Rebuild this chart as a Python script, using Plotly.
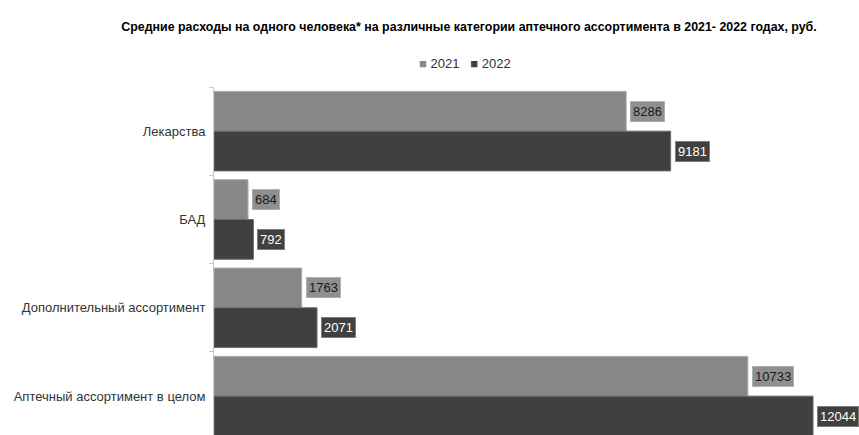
import plotly.graph_objects as go

categories = ["Лекарства", "БАД", "Дополнительный ассортимент", "Аптечный ассортимент в целом"]
values_2021 = [8286, 684, 1763, 10733]
values_2022 = [9181, 792, 2071, 12044]
series_names = ["2021", "2022"]

c2021 = "#878787"
c2022 = "#404040"

fig = go.Figure()
fig.add_trace(go.Bar(y=categories, x=values_2021, name=series_names[0], orientation="h",
                     marker=dict(color=c2021, line=dict(color="#a8a8a8", width=1))))
fig.add_trace(go.Bar(y=categories, x=values_2022, name=series_names[1], orientation="h",
                     marker=dict(color=c2022, line=dict(color="#6a6a6a", width=1))))

font_main = "Liberation Sans, Arial"
for cat, v in zip(categories, values_2021):
    fig.add_annotation(x=v, y=cat, text=str(v), showarrow=False, xanchor="left", yanchor="middle",
                       xshift=4, yshift=20, bgcolor="#8f8f8f", bordercolor="#b0b0b0", borderwidth=1,
                       borderpad=2, font=dict(family=font_main, size=13, color="#1a1a1a"))
for cat, v in zip(categories, values_2022):
    fig.add_annotation(x=v, y=cat, text=str(v), showarrow=False, xanchor="left", yanchor="middle",
                       xshift=4, yshift=-20, bgcolor="#404040", bordercolor="#808080", borderwidth=1,
                       borderpad=2, font=dict(family=font_main, size=13, color="#ffffff"))

# legend drawn as text with coloured squares
legend_text = (f"<span style='color:{c2021}'>■</span> {series_names[0]}   "
               f"<span style='color:{c2022}'>■</span> {series_names[1]}")
fig.add_annotation(xref="paper", yref="paper", x=(465 - 214) / 645, y=1 + (87 - 63) / 348,
                   text=legend_text, showarrow=False, xanchor="center", yanchor="middle",
                   font=dict(family=font_main, size=13, color="#333333"))

fig.update_layout(
    width=859, height=435,
    margin=dict(l=214, r=0, t=87, b=0),
    paper_bgcolor="white", plot_bgcolor="white",
    barmode="group", bargap=0.1, bargroupgap=0,
    title=dict(text="<b>Средние расходы на одного человека* на различные категории аптечного ассортимента в 2021- 2022 годах, руб.</b>",
               x=469/859, xref="container", xanchor="center", y=1-27/435, yref="container", yanchor="middle",
               font=dict(family=font_main, size=12.4, color="#000000")),
    showlegend=False,
    xaxis=dict(range=[0, 12968], showgrid=False, showticklabels=False, zeroline=False, showline=False,
               ticks=""),
    yaxis=dict(range=[3.44, -0.5], showgrid=False, showline=True, linecolor="#c8c8c8", linewidth=1,
               ticks="outside", ticklen=4, tickcolor="#c8c8c8", tickson="boundaries",
               ticklabelstandoff=5,
               tickfont=dict(family=font_main, size=13, color="#333333")),
)

fig.write_html("out.html")
